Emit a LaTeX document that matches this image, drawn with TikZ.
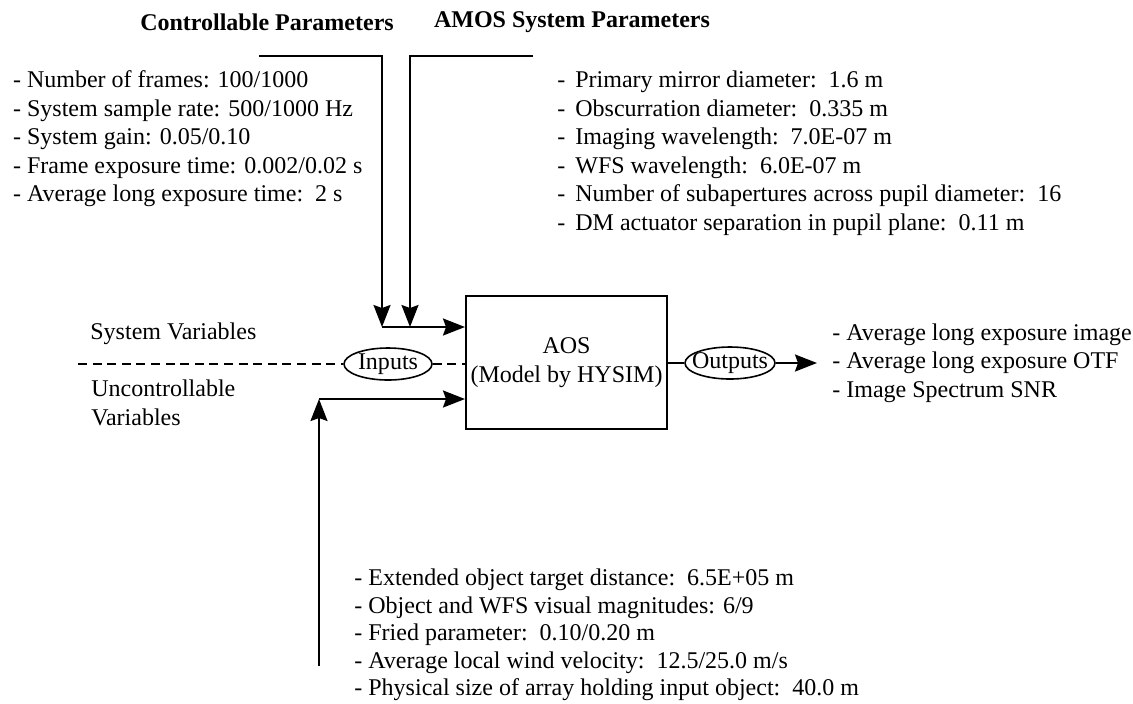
\documentclass[tikz,border=0pt]{standalone}
\usepackage{fontspec}
\setmainfont{Liberation Serif}
\usepackage{tikz}
\usetikzlibrary{arrows.meta,positioning,shapes.geometric,calc}

\begin{document}
\begin{tikzpicture}[
    x=0.5pt, y=-0.5pt,
    every node/.style={font=\fontsize{12}{14.25}\selectfont, inner sep=0pt},
    title/.style={font=\fontsize{12}{14.25}\selectfont\bfseries},
    plist/.style={anchor=west, align=left},
    aosbox/.style={draw, line width=1pt, minimum width=100.5pt,
                   minimum height=66.5pt, align=center},
    io/.style={draw, ellipse, line width=0.8pt, inner sep=-6pt,
               minimum width=#1, minimum height=16pt},
    arr/.style={-{Stealth[length=11pt, width=8.5pt, inset=1.5pt]}, line width=1pt},
    dash line/.style={line width=0.8pt, dash pattern=on 4.5pt off 2.8pt}
  ]
  \useasboundingbox (0,0) rectangle (1133,703);

  %% ---- titles ----
  \node[title] (ctrl_title) at (267,22) {Controllable Parameters};
  \node[title] (amos_title) at (572,22) {AMOS System Parameters};

  %% ---- parameter lists ----
  \node[plist] (ctrl_list) at (12.7,139)
    {- Number of frames: 100/1000\\
     - System sample rate: 500/1000 Hz\\
     - System gain: 0.05/0.10\\
     - Frame exposure time: 0.002/0.02 s\\
     - Average long exposure time:\ \ 2 s};
  \node[plist] (amos_list) at (557,153)
    {-\ \,Primary mirror diameter:\ \ 1.6 m\\
     -\ \,Obscurration diameter:\ \ 0.335 m\\
     -\ \,Imaging wavelength:\ \ 7.0E-07 m\\
     -\ \,WFS wavelength:\ \ 6.0E-07 m\\
     -\ \,Number of subapertures across pupil diameter:\ \ 16\\
     -\ \,DM actuator separation in pupil plane:\ \ 0.11 m};
  \node[plist, font=\fontsize{12}{13.75}\selectfont] (env_list) at (354,635)
    {- Extended object target distance:\ \ 6.5E+05 m\\
     - Object and WFS visual magnitudes: 6/9\\
     - Fried parameter:\ \ 0.10/0.20 m\\
     - Average local wind velocity:\ \ 12.5/25.0 m/s\\
     - Physical size of array holding input object:\ \ 40.0 m};
  \node[plist] (out_list) at (832,363)
    {- Average long exposure image\\
     - Average long exposure OTF\\
     - Image Spectrum SNR};

  %% ---- variable labels ----
  \node[plist] (sys_var) at (90,334) {System Variables};
  \node[plist] (unc_var) at (91,403) {Uncontrollable\\Variables};

  %% ---- model block ----
  \node[aosbox] (aos) at (566.5,362.5) {AOS\\(Model by HYSIM)};
  \node[io=44pt] (inputs)  at (388,364) {Inputs};
  \node[io=45pt] (outputs) at (730,363) {Outputs};

  \coordinate (ctrl_in)  at (259,56);
  \coordinate (ctrl_tip) at (382,327);
  \coordinate (amos_in)  at (533,56);
  \coordinate (amos_tip) at (410,327);
  \coordinate (env_in)   at (319,666);
  \coordinate (env_tip)  at (319,399);
  \coordinate (dash_in)  at (78,364);
  \coordinate (out_tip)  at (817,363);

  %% ---- connectors ----
  \draw[arr] (ctrl_in) -| (ctrl_tip);
  \draw[arr] (amos_in) -| (amos_tip);
  \draw[arr] (ctrl_tip) -- (ctrl_tip -| aos.west);
  \draw[arr] (env_in) -- (env_tip);
  \draw[arr] (env_tip) -- (env_tip -| aos.west);

  \draw[dash line] (dash_in) -- (inputs.west);
  \draw[dash line] (inputs.east) -- (inputs.east -| aos.west);

  \draw[line width=0.8pt] (aos.east |- outputs.west) -- (outputs.west);
  \draw[arr] (outputs.east) -- (out_tip);

\end{tikzpicture}
\end{document}
